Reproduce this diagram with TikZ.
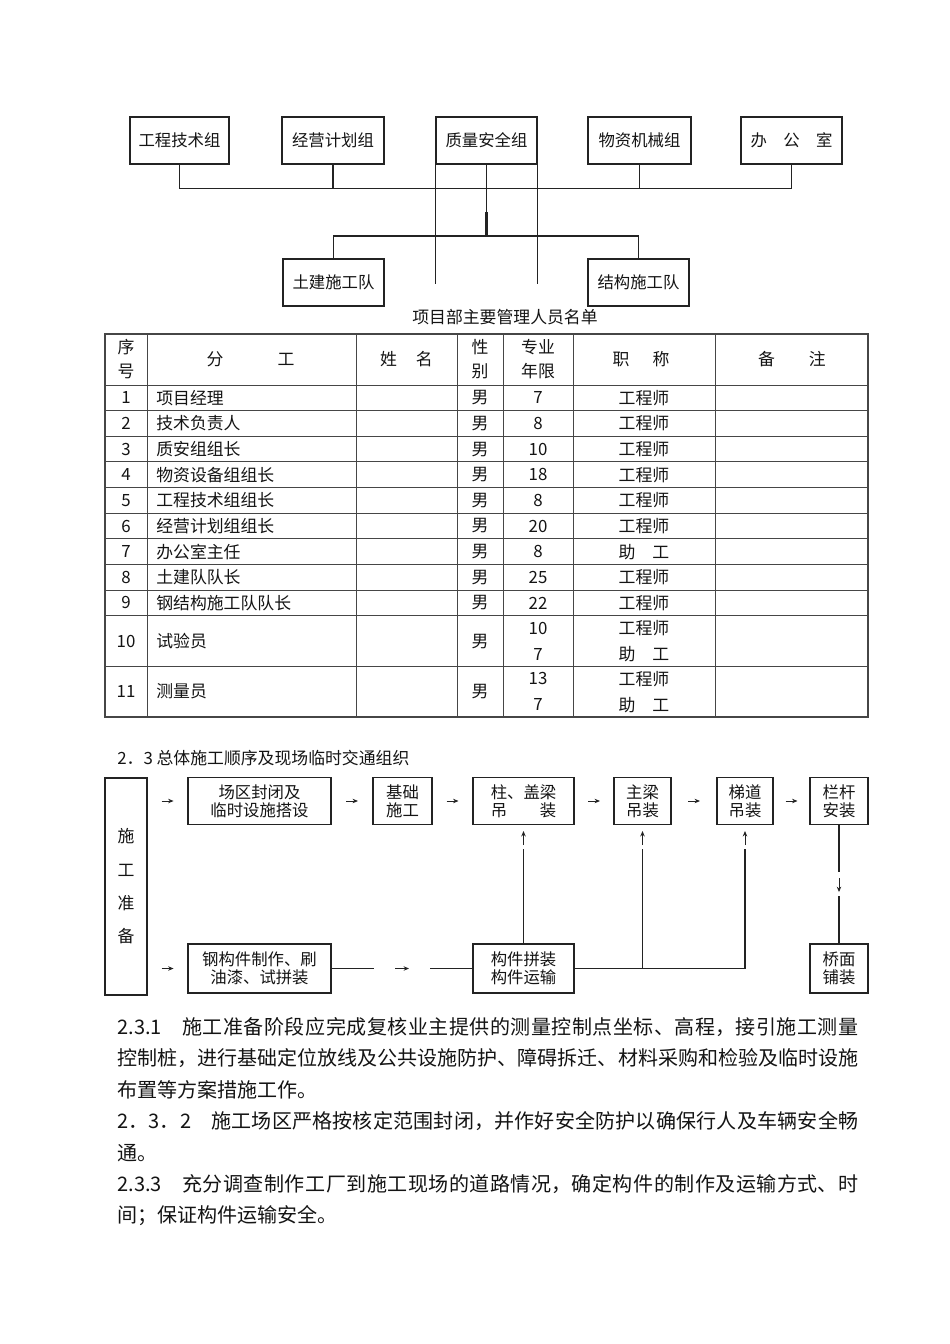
\documentclass[tikz,border=0pt]{standalone}
\usepackage{fontspec}
\setmainfont{Noto Sans CJK SC}
\usetikzlibrary{arrows.meta,positioning,calc}
\XeTeXlinebreaklocale "zh"
\XeTeXlinebreakskip=0pt plus 3pt minus 0.6pt
\newlength{\pu}
\setlength{\pu}{0.022105cm}
\definecolor{linea}{RGB}{35,35,35}
\definecolor{rejilla}{RGB}{70,70,70}
\definecolor{texto}{RGB}{20,20,20}
\tikzset{
  caja/.style={draw=linea,line width=0.7pt,inner sep=0pt,align=center,text=texto,font=\fontsize{10.3}{11.4}\selectfont},
  celda/.style={inner sep=0pt,align=center,text=texto,font=\fontsize{10.6}{15}\selectfont},
  parrafo/.style={inner sep=0pt,anchor=west,text=texto,font=\fontsize{12.6}{15}\selectfont},
  renglon/.style={parrafo,text width=741\pu,align=justify},
  conector/.style={draw=linea,line width=0.7pt},
  flecha/.style={draw=linea,line width=0.6pt,-{Stealth[length=3.4pt,width=2.8pt]}}
}
\newcommand{\lleno}[1]{\parfillskip=0pt\parindent=0pt #1\par}
\begin{document}
\begin{tikzpicture}[x=\pu,y=-\pu]
\useasboundingbox[fill=white] (0,0) rectangle (950,1344);

% organigrama
\node[caja,minimum width=99\pu,minimum height=47\pu] (jsz) at (179.5,140.5) {工程技术组};
\node[caja,minimum width=102\pu,minimum height=47\pu] (jyz) at (333,140.5) {经营计划组};
\node[caja,minimum width=101\pu,minimum height=47\pu] (zaz) at (486.5,140.5) {质量安全组};
\node[caja,minimum width=103\pu,minimum height=47\pu] (wzz) at (639.5,140.5) {物资机械组};
\node[caja,minimum width=101\pu,minimum height=47\pu] (bgs) at (791.5,140.5) {办　公　室};
\node[caja,minimum width=101\pu,minimum height=47\pu] (tjd) at (333.5,282.5) {土建施工队};
\node[caja,minimum width=101\pu,minimum height=47\pu] (jgd) at (638.5,282.5) {结构施工队};
\coordinate (bus) at (0,188.7);
\coordinate (rama) at (0,236);
\coordinate (fondo) at (0,284);
\draw[conector] (jsz.south) -- (jsz.south |- bus) -- (bgs.south |- bus) -- (bgs.south);
\draw[conector] (jyz.south) -- (jyz.south |- bus);
\draw[conector] (wzz.south) -- (wzz.south |- bus);
\draw[conector] (zaz.south) -- (zaz.south |- rama);
\draw[conector,line width=1.3pt] ($(zaz.south |- rama)+(0,-24)$) -- (zaz.south |- rama);
\draw[conector] (tjd.north) -- (tjd.north |- rama) -- (jgd.north |- rama) -- (jgd.north);
\draw[conector] (zaz.south west) -- (zaz.south west |- fondo);
\draw[conector] (zaz.south east) -- (zaz.south east |- fondo);
\node[celda] (titulo) at (505,317) {项目部主要管理人员名单};

% tabla
\draw[rejilla,line width=0.8pt] (105,334) rectangle (868,717);
\foreach \x in {147,356,457,503,573,715}
  \draw[rejilla,line width=0.6pt] (\x,334) -- (\x,717);
\foreach \y in {385,410.6,436.3,461.9,487.6,513.2,538.8,564.5,590.1,615.8,666.4}
  \draw[rejilla,line width=0.6pt] (105,\y) -- (868,\y);
\node[celda,font=\fontsize{10.6}{15.1}\selectfont] (hxh) at (126,359.5) {序\\号};
\node[celda] (hfg) at (250.5,359.5) {分\hspace{54\pu}工};
\node[celda] (hxm) at (406.5,359.5) {姓\hspace{19\pu}名};
\node[celda,font=\fontsize{10.6}{15.1}\selectfont] (hxb) at (480,359.5) {性\\别};
\node[celda,font=\fontsize{10.6}{15.1}\selectfont] (hnx) at (538,359.5) {专业\\年限};
\node[celda] (hzc) at (641,359.5) {职\hspace{23\pu}称};
\node[celda] (hbz) at (792,359.5) {备\hspace{34\pu}注};
\foreach \n/\cargo/\anos/\grado in {1/项目经理/7/工程师,2/技术负责人/8/工程师,3/质安组组长/10/工程师,
    4/物资设备组组长/18/工程师,5/工程技术组组长/8/工程师,6/经营计划组组长/20/工程师,
    7/办公室主任/8/助　工,8/土建队队长/25/工程师,9/钢结构施工队队长/22/工程师}{
  \pgfmathsetmacro\yy{385+(\n-0.5)*25.64}
  \node[celda] (num\n) at (126,\yy) {\n};
  \node[celda,anchor=west] (car\n) at (156,\yy) {\cargo};
  \node[celda] (sex\n) at (480,\yy) {男};
  \node[celda] (ano\n) at (538,\yy) {\anos};
  \node[celda] (gra\n) at (644,\yy) {\grado};
}
\foreach \n/\cargo/\yy/\anos in {10/试验员/641.1/10\\7,11/测量员/691.7/13\\7}{
  \node[celda] (num\n) at (126,\yy) {\n};
  \node[celda,anchor=west] (car\n) at (156,\yy) {\cargo};
  \node[celda] (sex\n) at (480,\yy) {男};
  \node[celda,font=\fontsize{10.6}{16.3}\selectfont] (ano\n) at (538,\yy) {\anos};
  \node[celda,font=\fontsize{10.6}{16.3}\selectfont] (gra\n) at (644,\yy) {工程师\\助　工};
}

% flujo de obra
\node[celda,anchor=west] (seccion) at (117,758) {2．3 总体施工顺序及现场临时交通组织};
\node[caja,minimum width=42\pu,minimum height=217\pu,font=\fontsize{10.6}{21}\selectfont] (prep) at (126,886.5) {施\\工\\准\\备};
\node[caja,minimum width=143\pu,minimum height=47\pu] (cq) at (259.5,801) {场区封闭及\\临时设施搭设};
\node[caja,minimum width=59\pu,minimum height=47\pu] (jc) at (402.5,801) {基础\\施工};
\node[caja,minimum width=101\pu,minimum height=47\pu] (zg) at (523.5,801) {柱、盖梁\\吊　　装};
\node[caja,minimum width=57\pu,minimum height=47\pu] (zl) at (642.5,801) {主梁\\吊装};
\node[caja,minimum width=56\pu,minimum height=47\pu] (td) at (745,801) {梯道\\吊装};
\node[caja,minimum width=58\pu,minimum height=47\pu] (lg) at (839,801) {栏杆\\安装};
\node[caja,minimum width=143\pu,minimum height=49\pu] (gj) at (259.5,968.5) {钢构件制作、刷\\油漆、试拼装};
\node[caja,minimum width=101\pu,minimum height=49\pu] (pz) at (523.5,968.5) {构件拼装\\构件运输};
\node[caja,minimum width=58\pu,minimum height=49\pu] (qm) at (839,968.5) {桥面\\铺装};

\foreach \a/\b in {cq/jc,jc/zg,zg/zl,zl/td,td/lg}{
  \path (\a.east) -- (\b.west) coordinate[pos=0.5] (m\a);
  \draw[flecha] ([xshift=-6\pu]m\a) -- ([xshift=6\pu]m\a);
}
\draw[flecha] (prep.east |- cq) ++(14,0) -- ++(12,0);
\draw[flecha] (prep.east |- gj) ++(14,0) -- ++(12,0);
\path (gj.east) -- (pz.west) coordinate[pos=0.5] (mgj);
\draw[conector] (gj.east) -- ++(42,0);
\draw[flecha] ([xshift=-7\pu]mgj) -- ([xshift=7\pu]mgj);
\draw[conector] (pz.west) -- ++(-42,0);

\coordinate (subida) at (0,849);
\coordinate (punta) at (0,831);
\draw[conector] (pz.east) -- (td.south |- pz.east);
\draw[conector] (pz.north) -- (zg.south |- subida);
\foreach \c in {zl,td}
  \draw[conector] (\c.south |- pz.east) -- (\c.south |- subida);
\foreach \c in {zg,zl,td}
  \draw[flecha] ($(\c.south |- subida)+(0,-4)$) -- (\c.south |- punta);
\draw[conector] (lg.south) -- ++(0,47);
\draw[flecha] ($(lg.south)+(0,53)$) -- ($(lg.south)+(0,67)$);
\draw[conector] (qm.north) -- ++(0,-47);

% texto
\node[renglon] (l1) at (117,1027) {\lleno{2.3.1　施工准备阶段应完成复核业主提供的测量控制点坐标、高程，接引施工测量}};
\node[renglon] (l2) at (117,1058.5) {\lleno{控制桩，进行基础定位放线及公共设施防护、障碍拆迁、材料采购和检验及临时设施}};
\node[parrafo] (l3) at (117,1090) {布置等方案措施工作。};
\node[renglon] (l4) at (117,1121.5) {\lleno{2．3．2　施工场区严格按核定范围封闭，并作好安全防护以确保行人及车辆安全畅}};
\node[parrafo] (l5) at (117,1153) {通。};
\node[renglon] (l6) at (117,1184.5) {\lleno{2.3.3　充分调查制作工厂到施工现场的道路情况，确定构件的制作及运输方式、时}};
\node[parrafo] (l7) at (117,1216) {间；保证构件运输安全。};
\end{tikzpicture}
\end{document}
